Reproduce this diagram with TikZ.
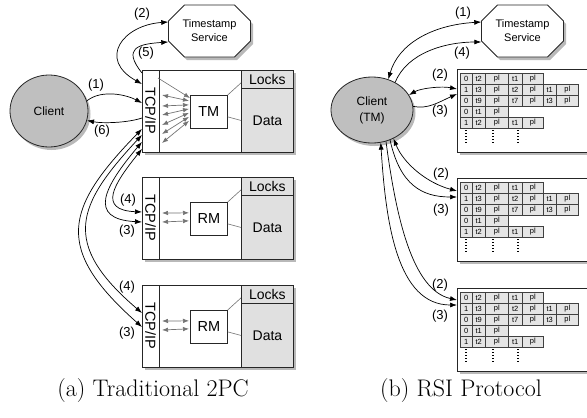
\documentclass[tikz,border=0pt]{standalone}
\usepackage{fontspec}
\setsansfont{Liberation Sans}
\usetikzlibrary{shapes.geometric,arrows.meta,shadows,calc}

\tikzset{
  shadowed/.style={drop shadow={opacity=0.55,shadow xshift=2.5pt,shadow yshift=-3pt}},
  box/.style={draw=black!85,line width=0.9pt,fill=white,inner sep=0,shadowed},
  strip/.style={draw=black!85,line width=0.9pt,fill=white,inner sep=0,font=\sffamily\fontsize{14.5}{16}\selectfont},
  store/.style={draw=black!85,line width=0.9pt,fill=black!12,inner sep=0,font=\sffamily\fontsize{14}{16}\selectfont},
  mgr/.style={draw=black!85,line width=0.7pt,fill=white,inner sep=0,font=\sffamily\fontsize{14.5}{16}\selectfont},
  client/.style={ellipse,draw=black!85,line width=0.8pt,fill=black!25,inner sep=0,align=center,font=\sffamily\fontsize{12}{16}\selectfont,shadowed},
  octa/.style={draw=black!85,line width=0.9pt,fill=white,shadowed},
  tstext/.style={align=center,inner sep=0,minimum width=82,minimum height=52,font=\sffamily\fontsize{11}{14}\selectfont},
  lbl/.style={inner sep=0,font=\sffamily\fontsize{13}{15}\selectfont},
  cell/.style={draw=black!75,line width=0.5pt,fill=black!10,inner sep=0,minimum height=11,font=\sffamily\fontsize{7.5}{8}\selectfont},
  dots/.style={line width=1.3pt,dash pattern=on 1.3pt off 1.7pt},
  arr/.style={-{Latex[length=7pt,width=5pt]},line width=0.7pt},
  darr/.style={{Latex[length=7pt,width=5pt]}-{Latex[length=7pt,width=5pt]},line width=0.7pt},
  garr/.style={{Latex[length=6pt,width=4.5pt]}-{Latex[length=6pt,width=4.5pt]},draw=black!55,line width=0.7pt},
  gline/.style={draw=black!55,line width=0.6pt},
  captxt/.style={inner sep=0,font=\fontsize{24}{29}\selectfont}
}

\begin{document}
\begin{tikzpicture}[x=1pt,y=-1pt]
  \useasboundingbox (0,0) rectangle (587,418);

  % (a) servers
  \foreach \n/\ty/\lab in {A/70/TM,B/177/RM,C/285/RM}{
    \node[box,minimum width=151,minimum height=82,anchor=north west] (srv\n) at (142,\ty) {};
    \node[strip,minimum width=82,minimum height=17,rotate=-90] (tcp\n) at (150.5,\ty+41) {TCP/IP};
    \node[store,minimum width=52,minimum height=18,anchor=north west] (locks\n) at (241,\ty) {Locks};
    \node[store,minimum width=52,minimum height=64,anchor=north west] (data\n) at (241,\ty+18) {Data};
    \node[mgr,minimum width=37,minimum height=33,anchor=north west] (mgr\n) at (190,\ty+25) {\lab};
    \draw[gline] (mgr\n.north east) -- ($(locks\n.south west)+(0,-6)$);
    \draw[gline] ($(mgr\n.east)+(0,5)$) -- (data\n.west);
  }
  \draw[gline,-{Latex[length=6pt,width=4.5pt]}] ($(srvA.north west)+(16,8)$) -- ($(mgrA.north west)+(0,3)$);
  \foreach \a/\b in {25/-11,36/-7,45/-3,55/1,64/5,73/9}
    \draw[garr] ($(srvA.north west)+(20,\a)$) -- ($(mgrA.west)+(-1,\b)$);
  \foreach \n in {B,C}{
    \draw[garr] ($(srv\n.north west)+(20,36)$) -- ($(mgr\n.west)+(-1,-6)$);
    \draw[garr] ($(srv\n.north west)+(20,45)$) -- ($(mgr\n.west)+(-1,2)$);
  }

  % clients and timestamp services
  \node[client,minimum width=78,minimum height=72] (clientA) at (49,111) {Client};
  \node[client,minimum width=82,minimum height=66] (clientB) at (372,110) {Client\\(TM)};
  \foreach \cx in {209.5,522.5}
    \draw[octa] (\cx-41,21) -- (\cx-25,5) -- (\cx+25,5) -- (\cx+41,21) -- (\cx+41,41) -- (\cx+25,57) -- (\cx-25,57) -- (\cx-41,41) -- cycle;
  \node[tstext] (tsA) at (209.5,31) {Timestamp\\Service};
  \node[tstext] (tsB) at (522.5,31) {Timestamp\\Service};

  % (a) messages
  \draw[arr] (clientA.15) .. controls +(15,-12) and +(-15,-8) .. ($(srvA.north west)+(0,33)$);
  \draw[arr] ($(srvA.north west)+(0,48)$) .. controls +(-15,5) and +(15,3) .. (clientA.-14);
  \draw[darr] ($(srvA.north west)+(0,14)$) .. controls +(-45,-25) and +(-45,3) .. ($(tsA.west)+(0,-9)$);
  \draw[arr] ($(srvA.north west)+(0,3)$) .. controls +(-20,-25) and +(-30,2) .. ($(tsA.west)+(0,11)$);
  \draw[darr] ($(srvA.south west)+(0,-4)$) .. controls +(-28,35) and +(-45,-2) .. ($(srvB.north west)+(0,35)$);
  \draw[darr] ($(srvA.south west)+(0,-11)$) .. controls +(-38,45) and +(-55,-3) .. ($(srvB.north west)+(0,45)$);
  \draw[darr] ($(srvA.south west)+(0,-18)$) .. controls +(-65,70) and +(-82,-70) .. ($(srvC.north west)+(0,28)$);
  \draw[darr] ($(srvA.south west)+(0,-24)$) .. controls +(-78,80) and +(-88,-78) .. ($(srvC.north west)+(0,42)$);
  \node[lbl] (n1a) at (96,85) {(1)};
  \node[lbl] (n6a) at (102,131) {(6)};
  \node[lbl] (n2a) at (142,14) {(2)};
  \node[lbl] (n5a) at (146,53) {(5)};
  \node[lbl] (n4b) at (128,200) {(4)};
  \node[lbl] (n3b) at (127,231) {(3)};
  \node[lbl] (n4c) at (127,287) {(4)};
  \node[lbl] (n3c) at (127,333) {(3)};

  % (b) partitions
  \foreach \pn/\py in {1/69,2/178,3/288}{
    \node[box,minimum width=150,minimum height=83,anchor=north west] (pnl\pn) at (457,\py) {};
    \foreach \rn/\rw in {1/{0,t2,pl,t1,pl},2/{1,t3,pl,t2,pl,t1,pl},3/{0,t9,pl,t7,pl,t3,pl},4/{0,t1,pl},5/{1,t2,pl,t1,pl}}
      \foreach \txt [count=\cn] in \rw {
        \pgfmathsetmacro\xl{460+{0,12,25,48,62,83,96}[\cn-1]}
        \pgfmathsetmacro\cw{{12,13,23,14,21,13,22}[\cn-1]}
        \node[cell,minimum width=\cw,anchor=north west] (c\pn\rn\cn) at (\xl,\py+11*\rn-7) {\txt};
      }
    \foreach \dx in {9,36,61}
      \draw[dots] ($(pnl\pn.north west)+(\dx,61)$) -- ++(0,14);
  }

  % (b) messages
  \draw[darr] (clientB.62) .. controls +(10,-35) and +(-50,3) .. ($(tsB.west)+(0,-9)$);
  \draw[arr] (clientB.50) .. controls +(12,-30) and +(-35,0) .. ($(tsB.west)+(0,11)$);
  \draw[darr] (clientB.22) .. controls +(12,-7) and +(-15,-3) .. ($(pnl1.north west)+(0,20)$);
  \draw[arr] (clientB.5) .. controls +(15,3) and +(-18,8) .. ($(pnl1.north west)+(0,25)$);
  \draw[darr] (clientB.-53) .. controls +(10,25) and +(-30,-8) .. ($(pnl2.north west)+(0,13)$);
  \draw[arr] (clientB.-59) .. controls +(10,45) and +(-35,0) .. ($(pnl2.north west)+(0,19)$);
  \draw[arr] (clientB.-66) .. controls +(10,75) and +(-45,-10) .. ($(pnl3.north west)+(0,12)$);
  \draw[darr] (clientB.-75) .. controls +(5,80) and +(-60,0) .. ($(pnl3.north west)+(0,17)$);
  \node[lbl] (n1r) at (463,13) {(1)};
  \node[lbl] (n4r) at (462,53) {(4)};
  \node[lbl] (n2p1) at (440,75) {(2)};
  \node[lbl] (n3p1) at (440,111) {(3)};
  \node[lbl] (n2p2) at (441,174) {(2)};
  \node[lbl] (n3p2) at (441,210) {(3)};
  \node[lbl] (n2p3) at (440,285) {(2)};
  \node[lbl] (n3p3) at (440,316) {(3)};

  \node[captxt] (capA) at (153,391) {(a) Traditional 2PC};
  \node[captxt] (capB) at (461,391) {(b) RSI Protocol};
\end{tikzpicture}
\end{document}
